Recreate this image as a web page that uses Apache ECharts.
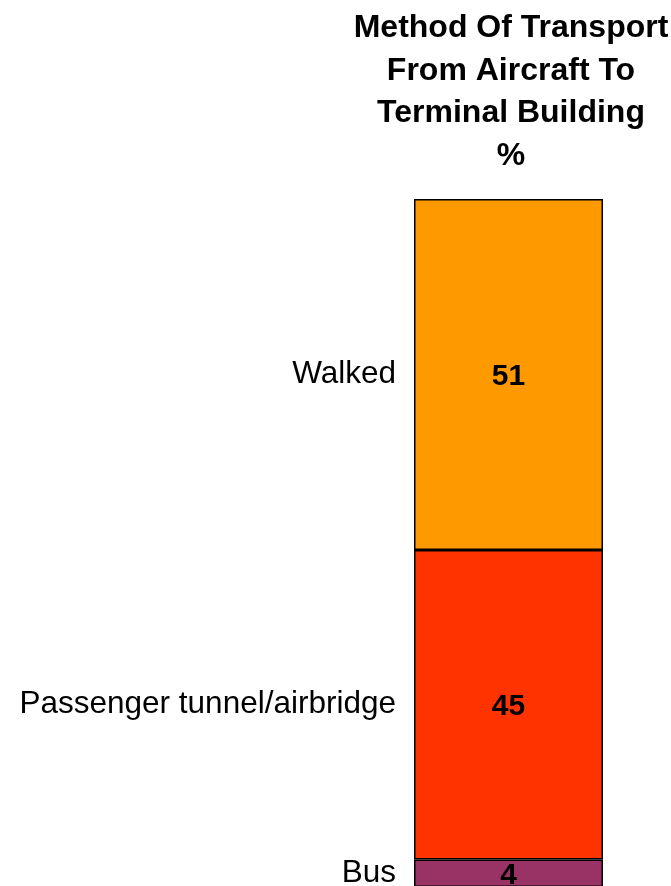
<!DOCTYPE html>
<html>
<head>
<meta charset="utf-8">
<script src="https://cdn.jsdelivr.net/npm/echarts@6/dist/echarts.min.js"></script>
<style>
  html, body { margin: 0; padding: 0; background: #fff; }
  #chart { width: 671px; height: 886px; }
</style>
</head>
<body>
<div id="chart"></div>
<script>
  // stacked from the bottom up
  var names = ['Bus', 'Passenger tunnel/airbridge', 'Walked']
  var values = [4, 45, 51]
  var colors = ['#993366', '#FF3300', '#FF9900']
  var title = 'Method Of Transport\nFrom Aircraft To\nTerminal Building\n%'

  // label positions: middle of each segment
  var mids = []
  var acc = 0
  values.forEach(function (v) {
    mids.push(acc + v / 2)
    acc += v
  })

  var font = '"Liberation Sans", Arial, sans-serif'
  var myChart = echarts.init(document.getElementById('chart'))
  myChart.setOption({
    animation: false,
    title: {
      text: title,
      left: 506,
      top: 2,
      textAlign: 'center',
      textStyle: {
        fontFamily: font,
        fontSize: 32,
        fontWeight: 'bold',
        color: '#000',
        lineHeight: 42.5
      }
    },
    grid: {
      left: 414,
      top: 199,
      width: 189,
      height: 688,
      outerBoundsMode: 'none'
    },
    xAxis: {
      type: 'category',
      data: [''],
      show: false
    },
    yAxis: {
      type: 'value',
      min: 0,
      max: 100,
      axisLine: { show: false },
      axisTick: { show: false },
      splitLine: { show: false },
      axisLabel: {
        customValues: mids,
        margin: 18,
        fontFamily: font,
        fontSize: 31.5,
        color: '#000',
        formatter: function (val) {
          var i = mids.indexOf(val)
          return i >= 0 ? names[i] : ''
        }
      }
    },
    series: names.map(function (n, i) {
      return {
        name: n,
        type: 'bar',
        stack: 'total',
        barWidth: 189,
        data: [values[i]],
        itemStyle: {
          color: colors[i],
          borderColor: '#000',
          borderWidth: 1.5
        },
        label: {
          show: true,
          position: 'inside',
          offset: [0, 2],
          fontFamily: font,
          fontSize: 30,
          fontWeight: 'bold',
          color: '#000'
        }
      }
    })
  })
</script>
</body>
</html>
